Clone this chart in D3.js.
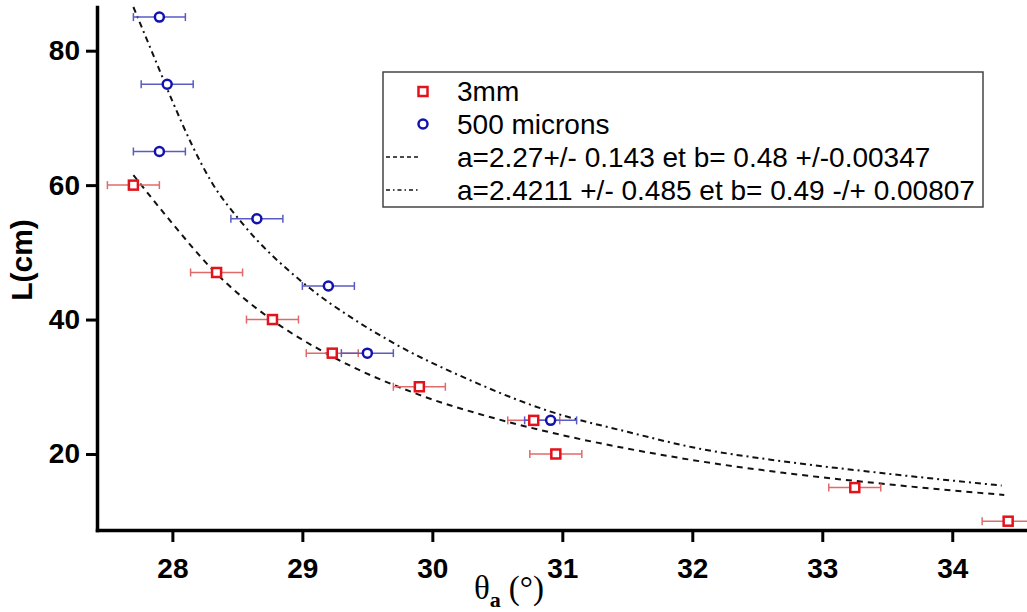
<!DOCTYPE html>
<html>
<head>
<meta charset="utf-8">
<script src="https://cdn.jsdelivr.net/npm/d3@7/dist/d3.min.js"></script>
<style>
  html, body { margin: 0; padding: 0; background: #fff; }
  svg { display: block; }
</style>
</head>
<body>
<svg id="chart" width="1027" height="612"></svg>
<script>
// ---- data ----
const xTicks = [28, 29, 30, 31, 32, 33, 34];
const yTicks = [20, 40, 60, 80];

// 3mm series (red squares)
const redTheta = [27.70, 28.34, 28.77, 29.23, 29.90, 30.78, 30.95, 33.25, 34.43];
const redL     = [60, 47, 40, 35, 30, 25, 20, 15, 10];
const redErr   = [0.2, 0.2, 0.2, 0.2, 0.2, 0.2, 0.2, 0.2, 0.2];

// 500 microns series (blue circles)
const blueTheta = [27.90, 27.96, 27.90, 28.65, 29.20, 29.50, 30.91];
const blueL     = [85, 75, 65, 55, 45, 35, 25];
const blueErr   = [0.2, 0.2, 0.2, 0.2, 0.2, 0.2, 0.2];

// fitted curves
const fitRedTheta = [27.70, 28.00, 28.31, 28.77, 29.23, 29.90, 30.50, 31.00, 31.50, 32.00, 32.70, 33.50, 34.40];
const fitRedL     = [61.5, 54.3, 47.4, 39.9, 34.5, 28.8, 25.2, 22.8, 20.8, 19.1, 17.2, 15.5, 13.9];
const fitBlueTheta = [27.70, 27.85, 28.00, 28.15, 28.30, 28.53, 29.01, 29.40, 29.73, 30.23, 30.91, 31.50, 32.00, 32.70, 33.44, 34.38];
const fitBlueL     = [86.5, 79.5, 72.5, 66.0, 60.5, 54.5, 45.4, 40.0, 36.2, 31.5, 26.3, 23.3, 21.0, 18.9, 17.2, 15.3];

const legendLabels = ["3mm", "500 microns",
  "a=2.27+/- 0.143 et b= 0.48 +/-0.00347",
  "a=2.4211 +/- 0.485 et b= 0.49 -/+ 0.00807"];

// ---- drawing ----
const svg = d3.select("#chart");
const RED = "#e3121b", RED_ERR = "#e06a6a";
const BLUE = "#1212b0", BLUE_ERR = "#5a5ac4";

const x = d3.scaleLinear().domain([27.42, 34.575]).range([97, 1027]);
const y = d3.scaleLinear().domain([8.69, 86.5]).range([530, 7]);

svg.append("clipPath").attr("id", "plotclip")
  .append("rect").attr("x", 97).attr("y", 0).attr("width", 940).attr("height", 530);

const plot = svg.append("g").attr("clip-path", "url(#plotclip)");

// fit curves
const line = d3.line().x(d => x(d[0])).y(d => y(d[1])).curve(d3.curveMonotoneX);
plot.append("path")
  .datum(d3.zip(fitRedTheta, fitRedL))
  .attr("d", line).attr("fill", "none").attr("stroke", "#111")
  .attr("stroke-width", 2).attr("stroke-dasharray", "6,5");
plot.append("path")
  .datum(d3.zip(fitBlueTheta, fitBlueL))
  .attr("d", line).attr("fill", "none").attr("stroke", "#111")
  .attr("stroke-width", 2).attr("stroke-dasharray", "6,4,2,4");

// error bars
function errorBars(thetas, Ls, errs, color) {
  const g = plot.append("g").attr("stroke", color).attr("stroke-width", 1.5).attr("fill", "none");
  thetas.forEach((t, i) => {
    const yy = y(Ls[i]), x0 = x(t - errs[i]), x1 = x(t + errs[i]);
    g.append("line").attr("x1", x0).attr("x2", x1).attr("y1", yy).attr("y2", yy);
    g.append("line").attr("x1", x0).attr("x2", x0).attr("y1", yy - 4).attr("y2", yy + 4);
    g.append("line").attr("x1", x1).attr("x2", x1).attr("y1", yy - 4).attr("y2", yy + 4);
  });
}
errorBars(redTheta, redL, redErr, RED_ERR);
errorBars(blueTheta, blueL, blueErr, BLUE_ERR);

// markers
plot.append("g").selectAll("rect").data(d3.zip(redTheta, redL)).join("rect")
  .attr("x", d => x(d[0]) - 4.5).attr("y", d => y(d[1]) - 4.5)
  .attr("width", 9).attr("height", 9)
  .attr("fill", "#fff").attr("stroke", RED).attr("stroke-width", 2.5);
plot.append("g").selectAll("circle").data(d3.zip(blueTheta, blueL)).join("circle")
  .attr("cx", d => x(d[0])).attr("cy", d => y(d[1])).attr("r", 4.5)
  .attr("fill", "#fff").attr("stroke", BLUE).attr("stroke-width", 2.5);

// axes
const xAxis = svg.append("g").attr("transform", "translate(0,530)")
  .call(d3.axisBottom(x).tickValues(xTicks).tickSize(12).tickPadding(16).tickSizeOuter(0).tickFormat(d3.format("d")));
const yAxis = svg.append("g").attr("transform", "translate(97,0)")
  .call(d3.axisLeft(y).tickValues(yTicks).tickSize(11).tickPadding(6).tickSizeOuter(0).tickFormat(d3.format("d")));
[xAxis, yAxis].forEach(g => {
  g.select(".domain").attr("stroke", "#000").attr("stroke-width", 3.5).attr("stroke-linecap", "square");
  g.selectAll(".tick line").attr("stroke", "#000").attr("stroke-width", 3);
  g.selectAll(".tick text").attr("fill", "#000")
    .style("font-family", "'Liberation Sans', Arial, sans-serif")
    .style("font-size", "28px").style("font-weight", "bold");
});

// axis titles
svg.append("text")
  .attr("transform", "translate(32,260) rotate(-90)")
  .attr("text-anchor", "middle")
  .style("font-family", "'Liberation Sans', Arial, sans-serif")
  .style("font-size", "30px").style("font-weight", "bold")
  .text("L(cm)");

const xt = svg.append("text").attr("x", 474).attr("y", 599)
  .style("font-family", "'Liberation Serif', 'Times New Roman', serif")
  .style("font-size", "33px");
xt.append("tspan").text("θ");
xt.append("tspan").attr("dy", 8).style("font-size", "22px").style("font-weight", "bold").text("a");
xt.append("tspan").attr("dy", -8).attr("dx", 8).text("(°)");

// legend
const lg = svg.append("g");
lg.append("rect").attr("x", 383).attr("y", 72).attr("width", 600).attr("height", 135)
  .attr("fill", "#fff").attr("stroke", "#444").attr("stroke-width", 1.5);
const rowY = [91.5, 124, 157, 190];
const lgFont = "'Liberation Sans', Arial, sans-serif";
legendLabels.forEach((t, i) => {
  lg.append("text").attr("x", 457).attr("y", rowY[i]).attr("dy", "0.35em")
    .style("font-family", lgFont).style("font-size", "28px").attr("fill", "#000").text(t);
});
lg.append("rect").attr("x", 423 - 4.5).attr("y", rowY[0] - 4.5).attr("width", 9).attr("height", 9)
  .attr("fill", "#fff").attr("stroke", RED).attr("stroke-width", 2.5);
lg.append("circle").attr("cx", 423).attr("cy", rowY[1]).attr("r", 4.5)
  .attr("fill", "#fff").attr("stroke", BLUE).attr("stroke-width", 2.5);
lg.append("line").attr("x1", 386).attr("x2", 420).attr("y1", rowY[2]).attr("y2", rowY[2])
  .attr("stroke", "#111").attr("stroke-width", 1.5).attr("stroke-dasharray", "4,3");
lg.append("line").attr("x1", 386).attr("x2", 420).attr("y1", rowY[3]).attr("y2", rowY[3])
  .attr("stroke", "#111").attr("stroke-width", 1.5).attr("stroke-dasharray", "4,3,1.5,3");
</script>
</body>
</html>
